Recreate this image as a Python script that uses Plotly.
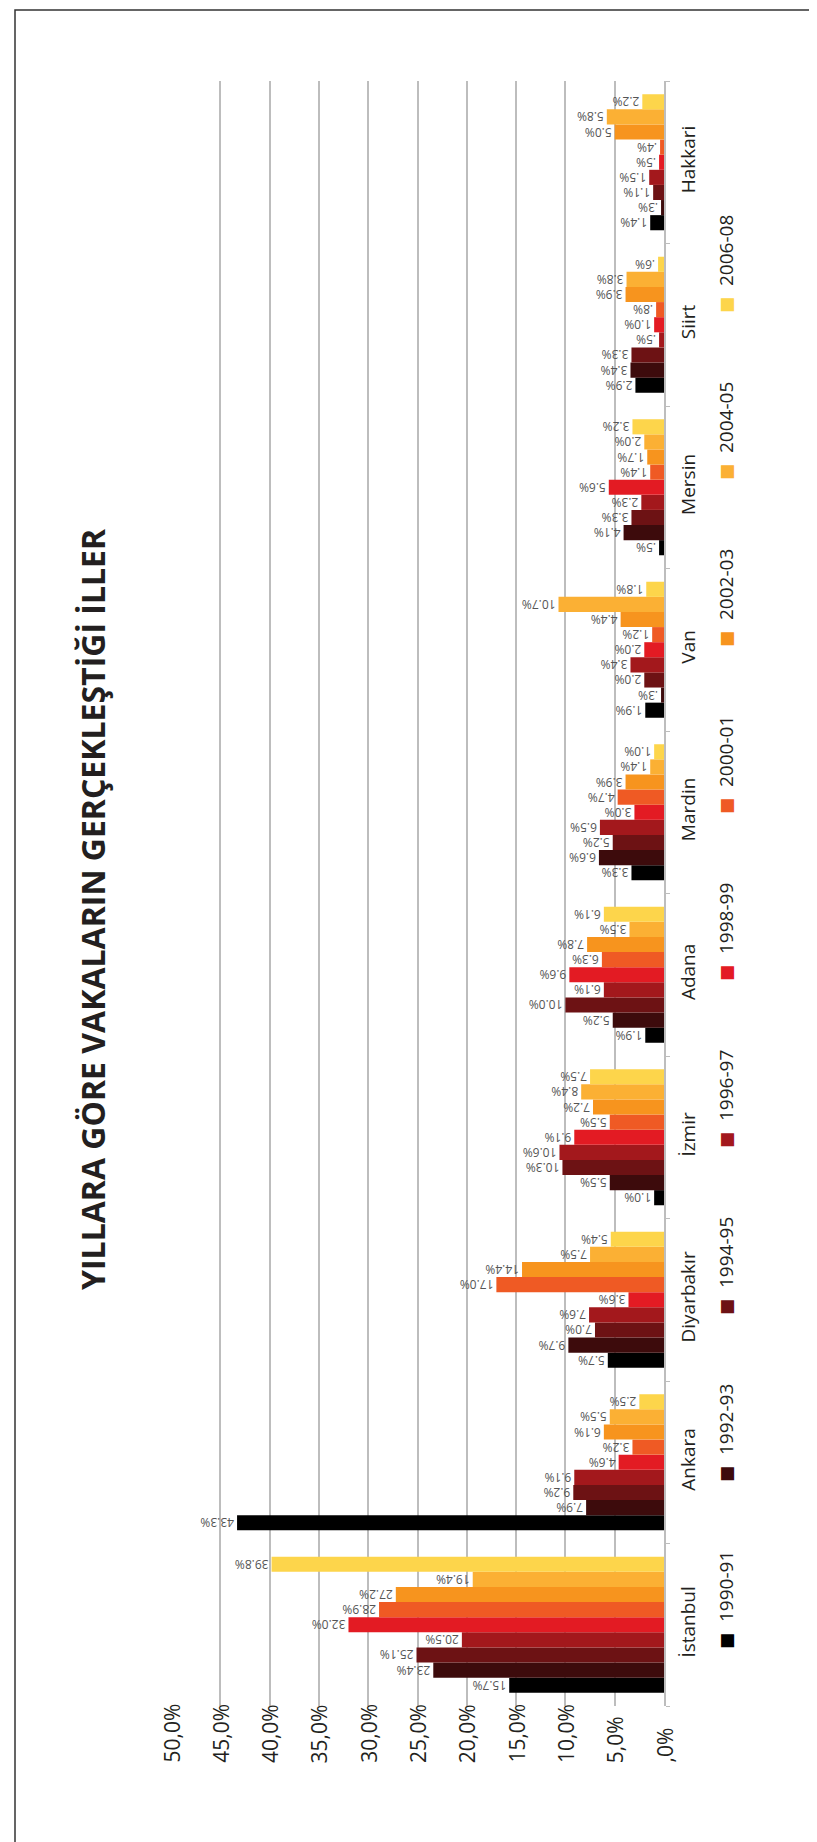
import plotly.graph_objects as go

cities = ["İstanbul", "Ankara", "Diyarbakır", "İzmir", "Adana", "Mardin", "Van", "Mersin", "Siirt", "Hakkari"]
periods = ["1990-91", "1992-93", "1994-95", "1996-97", "1998-99", "2000-01", "2002-03", "2004-05", "2006-08"]

v1990_91 = [15.7, 43.3, 5.7, 1.0, 1.9, 3.3, 1.9, 0.5, 2.9, 1.4]
v1992_93 = [23.4, 7.9, 9.7, 5.5, 5.2, 6.6, 0.3, 4.1, 3.4, 0.3]
v1994_95 = [25.1, 9.2, 7.0, 10.3, 10.0, 5.2, 2.0, 3.3, 3.3, 1.1]
v1996_97 = [20.5, 9.1, 7.6, 10.6, 6.1, 6.5, 3.4, 2.3, 0.5, 1.5]
v1998_99 = [32.0, 4.6, 3.6, 9.1, 9.6, 3.0, 2.0, 5.6, 1.0, 0.5]
v2000_01 = [28.9, 3.2, 17.0, 5.5, 6.3, 4.7, 1.2, 1.4, 0.8, 0.4]
v2002_03 = [27.2, 6.1, 14.4, 7.2, 7.8, 3.9, 4.4, 1.7, 3.9, 5.0]
v2004_05 = [19.4, 5.5, 7.5, 8.4, 3.5, 1.4, 10.7, 2.0, 3.8, 5.8]
v2006_08 = [39.8, 2.5, 5.4, 7.5, 6.1, 1.0, 1.8, 3.2, 0.6, 2.2]

x_tick_vals = [0, 5, 10, 15, 20, 25, 30, 35, 40, 45, 50]
x_tick_labels = [",0%", "5,0%", "10,0%", "15,0%", "20,0%", "25,0%", "30,0%", "35,0%", "40,0%", "45,0%", "50,0%"]

colors = ["#000000", "#3d0b0c", "#6d1214", "#a3181c", "#e31b23", "#ef5a24", "#f7941e", "#fbb034", "#fdd54b"]

series = [v1990_91, v1992_93, v1994_95, v1996_97, v1998_99, v2000_01, v2002_03, v2004_05, v2006_08]

W, H = 817, 1842
PL, PR, PT, PB = 163, 656, 73, 1698  # plot area in pixels


def px(xp):
    return (xp - PL) / (PR - PL)


def py(yp):
    return (PB - yp) / (PB - PT)


def fmt(v):
    s = f"{v:.1f}%"
    if s.startswith("0."):
        s = s[1:]
    return s


fig = go.Figure()
for name, vals, col in zip(periods, series, colors):
    fig.add_trace(go.Bar(
        y=cities, x=vals, name=name, orientation="h",
        marker=dict(color=col, line=dict(width=0)),
        text=[fmt(v) for v in vals],
        textposition="outside", textangle=180,
        constraintext="none", cliponaxis=False,
        textfont=dict(family="Open Sans", size=12, color="#555555"),
        showlegend=False,
    ))

annotations = [
    dict(text="<b>YILLARA GÖRE VAKALARIN GERÇEKLEŞTİĞİ İLLER</b>",
         xref="paper", yref="paper", x=px(85), y=py(901),
         xanchor="center", yanchor="middle", textangle=-90, showarrow=False,
         font=dict(family="Open Sans", size=32, color="#231f20")),
]
# value-axis tick labels, start-aligned (bottom) as in the reference
for tv, tl in zip(x_tick_vals, x_tick_labels):
    annotations.append(dict(text=tl, xref="x", yref="paper", x=tv, y=py(1757),
                            xanchor="center", yanchor="bottom", textangle=-90,
                            showarrow=False,
                            font=dict(family="Open Sans", size=21, color="#231f20")))
# legend
for i, (name, col) in enumerate(zip(periods, colors)):
    annotations.append(dict(text="■", xref="paper", yref="paper",
                            x=px(718), y=py(1633 - i * 167), xanchor="center", yanchor="middle",
                            textangle=-90, showarrow=False,
                            font=dict(family="DejaVu Sans", size=17, color=col)))
    annotations.append(dict(text=name, xref="paper", yref="paper",
                            x=px(718), y=py(1579 - i * 167), xanchor="center", yanchor="middle",
                            textangle=-90, showarrow=False,
                            font=dict(family="Open Sans", size=19, color="#231f20")))

fig.update_layout(
    width=W, height=H,
    margin=dict(l=PL, r=W - PR, t=PT, b=H - PB, pad=0),
    paper_bgcolor="white", plot_bgcolor="white",
    barmode="group", bargap=0.163, bargroupgap=0,
    annotations=annotations,
    shapes=[dict(type="rect", xref="paper", yref="paper",
                 x0=px(7), x1=px(816), y0=py(1840), y1=py(2),
                 line=dict(color="#333333", width=1.5), layer="below")],
    xaxis=dict(range=[50, 0], tickvals=x_tick_vals, showticklabels=False,
               showgrid=True, gridcolor="#bdbdbd", gridwidth=1.5,
               zeroline=False, showline=False, ticks=""),
    yaxis=dict(side="right", type="category", tickangle=-90,
               showline=True, linecolor="#bdbdbd", linewidth=1.5,
               ticks="outside", tickson="boundaries", ticklen=4, tickcolor="#bdbdbd",
               ticklabelstandoff=6,
               showgrid=False, zeroline=False,
               tickfont=dict(family="Open Sans", size=19, color="#231f20")),
)

fig.write_html("out.html")
